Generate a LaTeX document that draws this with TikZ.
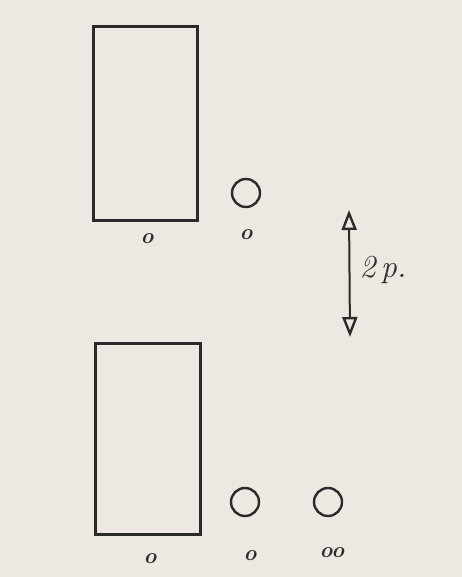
\documentclass[tikz,border=0pt]{standalone}
\usetikzlibrary{arrows.meta}
\definecolor{paper}{HTML}{EDE8E1}
\definecolor{ink}{HTML}{2B2B2B}
\begin{document}
\begin{tikzpicture}[x=1pt,y=-1pt,
  box/.style={draw=ink,line width=3pt,inner sep=0pt},
  ring/.style={draw=ink,line width=2.4pt,circle,minimum size=28pt,inner sep=0pt},
  lab/.style={text=ink,font=\fontsize{22}{24}\selectfont\bfseries\itshape,inner sep=0pt},
  dim/.style={draw=ink,line width=2pt,{Triangle[open,length=20pt,width=15pt,line width=2.4pt]}-{Triangle[open,length=20pt,width=15pt,line width=2.4pt]}}]
\fill[paper] (0,0) rectangle (462,577);
\useasboundingbox (0,0) rectangle (462,577);
% top group
\node[box,minimum width=104pt,minimum height=193pt] (r1) at (145,123.5) {};
\node[ring] (c1) at (246,193) {};
\node[lab] (l1) at (147,239) {o};
\node[lab] (l2) at (246,235) {o};
% dimension arrow
\coordinate (at) at (349,210);
\coordinate (ab) at (350,337);
\draw[dim] (at) -- (ab);
\node[text=ink,font=\fontsize{32}{34}\selectfont\itshape,inner sep=0pt] (t) at (383,270) {2\,p.};
% bottom group
\node[box,minimum width=105pt,minimum height=191pt] (r2) at (147.5,438.5) {};
\node[ring] (c2) at (245,502) {};
\node[ring] (c3) at (328,502) {};
\node[lab] (l3) at (150,559) {o};
\node[lab] (l4) at (250,556) {o};
\node[lab] (l5) at (332,553) {oo};
\end{tikzpicture}
\end{document}
